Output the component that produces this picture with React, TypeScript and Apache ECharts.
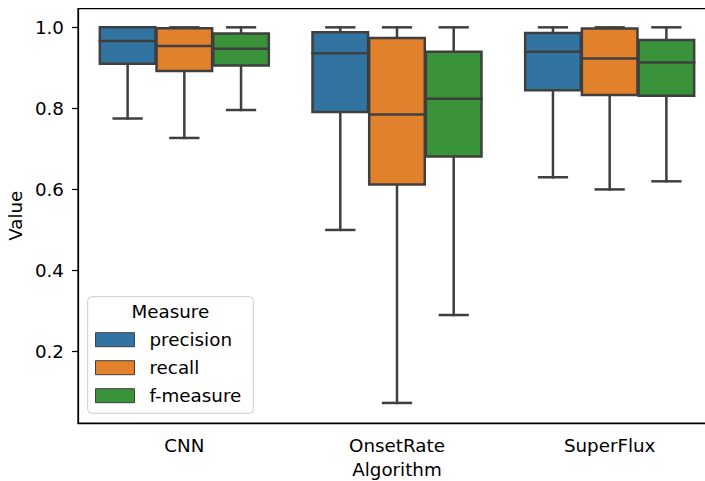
import React, { useEffect, useRef } from "react";
import * as echarts from "echarts";

const categories = ["CNN", "OnsetRate", "SuperFlux"];
const measures = ["precision", "recall", "f-measure"];
const colors = ["#3274a1", "#e1812c", "#3a923a"];
// [min, q1, median, q3, max] for each category
const precision = [
  [0.775, 0.91, 0.966, 1.0, 1.0],
  [0.5, 0.791, 0.936, 0.988, 1.0],
  [0.63, 0.845, 0.94, 0.986, 1.0],
];
const recall = [
  [0.727, 0.892, 0.954, 0.998, 1.0],
  [0.073, 0.612, 0.785, 0.974, 1.0],
  [0.6, 0.833, 0.923, 0.997, 1.0],
];
const fMeasure = [
  [0.796, 0.906, 0.947, 0.985, 1.0],
  [0.29, 0.681, 0.824, 0.94, 1.0],
  [0.62, 0.831, 0.913, 0.969, 1.0],
];
const yTicks = [0.2, 0.4, 0.6, 0.8, 1.0];
const yMin = 0.0235;
const yMax = 1.0465;

const GRAY = "#3f3f3f";
const LW = 2.5;
const FS = 18.3;
const FONT = "DejaVu Sans";

const makeRender = (hue: number) => (params: any, api: any) => {
  const cat = api.value(0);
  const band = api.size([1, 0])[0];
  const step = (band * 0.8) / 3;
  const bw = step * 0.98;
  const cx = api.coord([cat, 0])[0] + (hue - 1) * step;
  const y = (k: number) => api.coord([cat, api.value(k)])[1];
  const yLo = y(1), yQ1 = y(2), yMed = y(3), yQ3 = y(4), yHi = y(5);
  const line = (x1: number, y1: number, x2: number, y2: number) => ({
    type: "line",
    shape: { x1, y1, x2, y2 },
    style: { stroke: GRAY, lineWidth: LW, lineCap: "square" },
  });
  return {
    type: "group",
    children: [
      line(cx, yQ1, cx, yLo),
      line(cx, yQ3, cx, yHi),
      line(cx - bw / 4, yLo, cx + bw / 4, yLo),
      line(cx - bw / 4, yHi, cx + bw / 4, yHi),
      {
        type: "rect",
        shape: { x: cx - bw / 2, y: yQ3, width: bw, height: yQ1 - yQ3 },
        style: { fill: colors[hue], stroke: GRAY, lineWidth: LW },
      },
      line(cx - bw / 2, yMed, cx + bw / 2, yMed),
    ],
  };
};

export default function App() {
  const ref = useRef<HTMLDivElement>(null);
  useEffect(() => {
    if (!ref.current) return;
    const chart = echarts.init(ref.current, undefined, { renderer: "svg" });
    const sets = [precision, recall, fMeasure];
    const option: any = {
      animation: false,
      backgroundColor: "#ffffff",
      textStyle: { fontFamily: FONT },
      grid: {
        left: 78,
        top: 8.5,
        width: 638,
        bottom: 58,
        show: true,
        borderColor: "#000",
        borderWidth: 1.25,
        backgroundColor: "transparent",
        outerBoundsMode: "none",
        containLabel: false,
      },
      xAxis: {
        type: "category",
        data: categories,
        boundaryGap: true,
        name: "Algorithm",
        nameLocation: "middle",
        nameGap: 37,
        nameTextStyle: { fontSize: FS, color: "#000", fontFamily: FONT },
        axisLine: { lineStyle: { color: "#000", width: 1.25 } },
        axisTick: { alignWithLabel: true, length: 6, lineStyle: { color: "#000", width: 1.25 } },
        axisLabel: { fontSize: FS, color: "#000", fontFamily: FONT, margin: 13 },
        splitLine: { show: false },
      },
      yAxis: {
        type: "value",
        min: yMin,
        max: yMax,
        name: "Value",
        nameLocation: "middle",
        nameGap: 52,
        nameTextStyle: { fontSize: FS, color: "#000", fontFamily: FONT },
        axisLine: { show: true, lineStyle: { color: "#000", width: 1.25 } },
        axisTick: { show: true, length: 6, customValues: yTicks, lineStyle: { color: "#000", width: 1.25 } },
        axisLabel: {
          fontSize: FS,
          color: "#000",
          fontFamily: FONT,
          margin: 14,
          customValues: yTicks,
          formatter: (v: number) => v.toFixed(1),
        },
        splitLine: { show: false },
      },
      legend: {
        data: measures,
        orient: "vertical",
        left: 95,
        top: 330.7,
        padding: 0,
        itemWidth: 39,
        itemHeight: 14,
        itemGap: 10,
        icon: "rect",
        selectedMode: false,
        z: 10,
        itemStyle: { borderColor: GRAY, borderWidth: 1 },
        textStyle: { fontSize: FS, color: "#000", fontFamily: FONT, padding: [0, 0, 0, 10] },
      },
      graphic: [
        {
          type: "rect",
          z: 5,
          shape: { x: 87.7, y: 296.7, width: 165.6, height: 116.6, r: 4 },
          style: { fill: "rgba(255,255,255,0.8)", stroke: "#cccccc", lineWidth: 1 },
        },
        {
          type: "text",
          z: 6,
          x: 170.3,
          y: 311,
          style: {
            text: "Measure",
            fontSize: FS,
            fontFamily: FONT,
            fill: "#000",
            align: "center",
            verticalAlign: "middle",
          },
        },
      ],
      series: measures.map((m, hue) => ({
        type: "custom",
        name: m,
        itemStyle: { color: colors[hue] },
        renderItem: makeRender(hue),
        encode: { x: 0, y: [1, 2, 3, 4, 5] },
        data: sets[hue].map((row, i) => [i, ...row]),
      })),
    };
    chart.setOption(option);
    return () => chart.dispose();
  }, []);
  return (
    <div
      ref={ref}
      style={{ position: "fixed", left: 0, top: 0, width: 705, height: 481, background: "#fff" }}
    />
  );
}
